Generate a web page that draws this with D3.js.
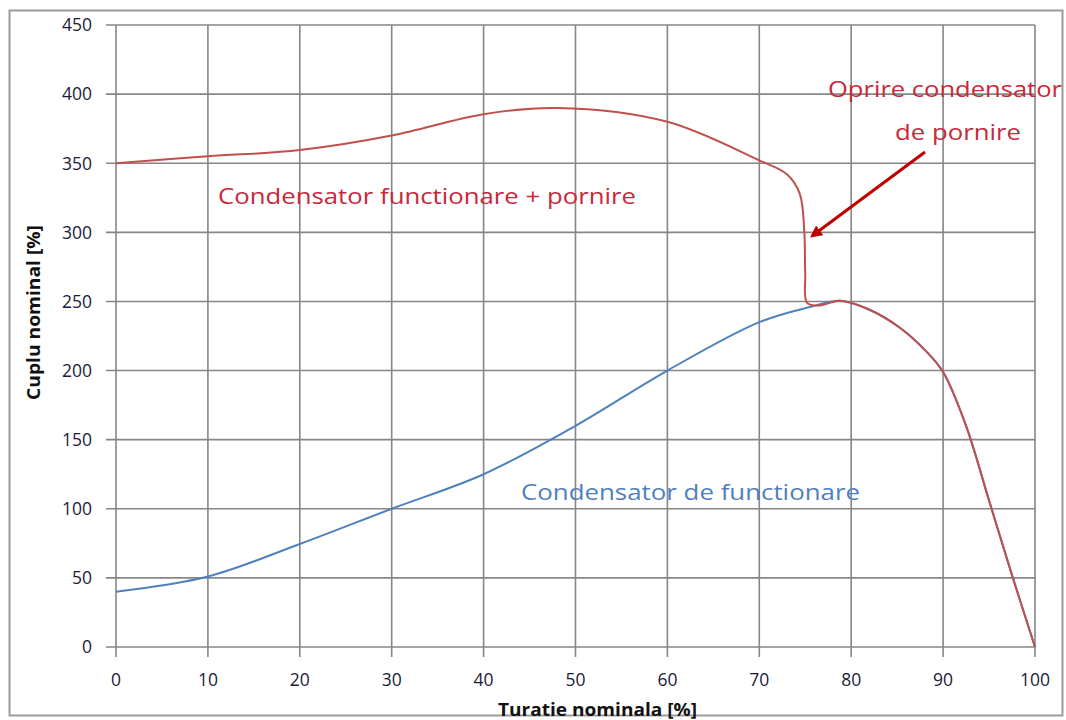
<!DOCTYPE html>
<html><head><meta charset="utf-8">
<script src="https://cdn.jsdelivr.net/npm/d3@7"></script>
<style>body{margin:0;background:#fff}svg{display:block}</style>
</head><body><svg id="c" width="1066" height="720"></svg>
<script>
const xTicks = [0,10,20,30,40,50,60,70,80,90,100];
const yTicks = [0,50,100,150,200,250,300,350,400,450];
const blueX = [0,10,20,30,40,50,60,70,75.5,78.8,82,85.3,88,90,92.5,95,97.5,100];
const blueY = [40,51,74.5,100,125,160,200,235,246,250.5,244,231,215,199,160,106,52,0];
const redX = [0,10,20,30,40,48,60,70,73,74.4,74.9,75,75.2,76.5,78.8,82,85.3,88,90,92.5,95,97.5,100];
const redY = [350,355,359.5,370,385.5,390,380,352,342,328,300,270,249,247,250.5,244,231,215,199,160,106,52,0];
const labels = {
  red: "Condensator functionare + pornire",
  blue: "Condensator de functionare",
  stop1: "Oprire condensator",
  stop2: "de pornire",
  xTitle: "Turatie nominala [%]",
  yTitle: "Cuplu nominal [%]"
};

const svg = d3.select("#c");
svg.append("rect").attr("x",9.5).attr("y",10.5).attr("width",1053).attr("height",705)
  .attr("fill","none").attr("stroke","#9a9a9a").attr("stroke-width",2);

const x = d3.scaleLinear().domain([0,100]).range([116,1035]);
const y = d3.scaleLinear().domain([0,450]).range([647,25]);

const grid = svg.append("g").attr("stroke","#868686").attr("stroke-width",1.6);
xTicks.forEach(t=>{
  grid.append("line").attr("x1",x(t)).attr("x2",x(t)).attr("y1",y(450)).attr("y2",y(0)+10);
});
yTicks.forEach(t=>{
  grid.append("line").attr("x1",x(0)-10).attr("x2",x(100)).attr("y1",y(t)).attr("y2",y(t));
});

const tf = "'Open Sans','Liberation Sans',sans-serif";
svg.append("g").selectAll("text").data(yTicks).join("text")
  .attr("x",92).attr("y",d=>y(d)).attr("dy","0.36em").attr("text-anchor","end")
  .attr("font-family",tf).attr("font-size",17.5).attr("fill","#1c1c38").text(d=>d);
svg.append("g").selectAll("text").data(xTicks).join("text")
  .attr("x",d=>x(d)).attr("y",680).attr("dy","0.36em").attr("text-anchor","middle")
  .attr("font-family",tf).attr("font-size",17.5).attr("fill","#1c1c38").text(d=>d);

svg.append("text").attr("x",498).attr("y",710).attr("dy","0.36em")
  .attr("font-family",tf).attr("font-weight","bold").attr("font-size",17).attr("fill","#111")
  .attr("textLength",199).attr("lengthAdjust","spacingAndGlyphs")
  .text(labels.xTitle);
svg.append("text").attr("transform","translate(34,400) rotate(-90)").attr("dy","0.36em")
  .attr("font-family",tf).attr("font-weight","bold")
  .attr("font-size",17).attr("fill","#111")
  .attr("textLength",175).attr("lengthAdjust","spacingAndGlyphs").text(labels.yTitle);

const line = d3.line().x(d=>x(d[0])).y(d=>y(d[1])).curve(d3.curveCatmullRom.alpha(0.5));
svg.append("path").datum(blueX.map((v,i)=>[v,blueY[i]])).attr("d",line)
  .attr("fill","none").attr("stroke","#4f81bd").attr("stroke-width",2);
svg.append("path").datum(redX.map((v,i)=>[v,redY[i]])).attr("d",line)
  .attr("fill","none").attr("stroke","#c0504d").attr("stroke-width",2);

const af = "'Open Sans','Liberation Sans',sans-serif";
function lab(t,x0,x1,yc,col){
  svg.append("text").attr("x",x0).attr("y",yc).attr("dy","0.36em")
   .attr("font-family",af).attr("font-size",22).attr("fill",col)
   .attr("textLength",x1-x0).attr("lengthAdjust","spacingAndGlyphs").text(t);
}
lab(labels.red,218,636,196,"#c8283a");
lab(labels.blue,521,860,492,"#4f7fbf");
lab(labels.stop1,828,1062,89,"#c8283a");
lab(labels.stop2,895,1021,132,"#c8283a");

const defs = svg.append("defs");
defs.append("marker").attr("id","ah").attr("viewBox","0 0 10 10").attr("refX",8).attr("refY",5)
  .attr("markerWidth",4).attr("markerHeight",4).attr("orient","auto")
  .append("path").attr("d","M0,0 L10,5 L0,10 z").attr("fill","#c00000");
svg.append("line").attr("x1",925).attr("y1",152).attr("x2",812).attr("y2",236)
  .attr("stroke","#c00000").attr("stroke-width",3).attr("marker-end","url(#ah)");
</script></body></html>
